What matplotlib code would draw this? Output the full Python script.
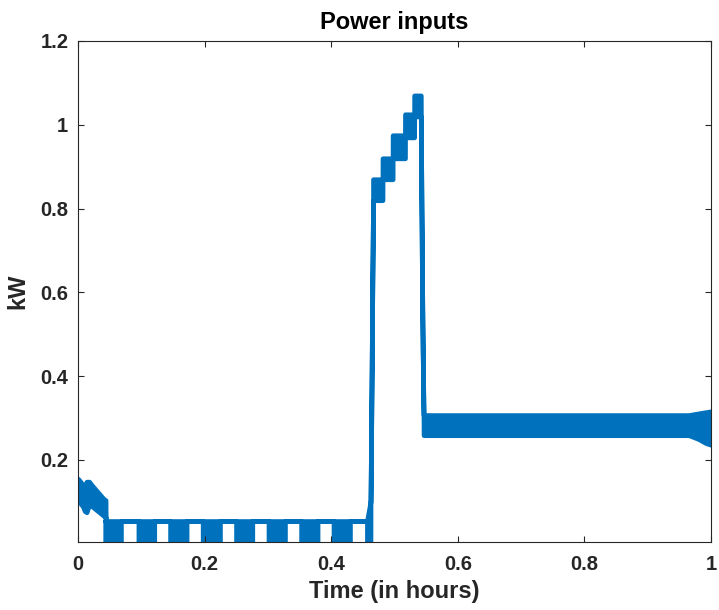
import numpy as np
import matplotlib
matplotlib.use("Agg")
import matplotlib.pyplot as plt
from matplotlib.ticker import FuncFormatter

# ---- data (time in hours, power in kW); each stretch is an envelope lo..hi ----
# start-up transient
init_t = [0.000, 0.008, 0.0105, 0.0135, 0.0175, 0.0215, 0.0410, 0.0435]
init_hi = [0.155, 0.140, 0.135, 0.148, 0.148, 0.140, 0.106, 0.104]
init_lo = [0.104, 0.088, 0.078, 0.075, 0.094, 0.090, 0.066, 0.064]

# cycling period: standby level with switching bursts down to zero
standby_kw = 0.054
burst_on = [0.0430, 0.0955, 0.1455, 0.1970, 0.2497, 0.3010, 0.3525, 0.4037, 0.4565]
burst_off = [0.0678, 0.1204, 0.1715, 0.2242, 0.2753, 0.3269, 0.3784, 0.4296, 0.4620]

# ramp up
rise_t = [0.4620, 0.4635, 0.4645, 0.4660]
rise_kw = [0.10, 0.36, 0.56, 0.82]

# stepped high-load period
step_edges = [0.4660, 0.4810, 0.4970, 0.5165, 0.5310, 0.5415]
step_lo = [0.82, 0.87, 0.92, 0.97, 1.02]
step_hi = [0.87, 0.92, 0.975, 1.025, 1.07]

# ramp down
drop_t = [0.5420, 0.5432, 0.5445, 0.5458]
drop_kw = [0.92, 0.67, 0.46, 0.31]

# steady operation
steady_t = [0.5460, 0.9650, 0.9800, 0.9920, 1.0000]
steady_lo = [0.259, 0.259, 0.250, 0.240, 0.236]
steady_hi = [0.307, 0.307, 0.311, 0.314, 0.316]

# ---- assemble the envelope ----
t, lo, hi = [], [], []


def add(tt, l, h):
    t.append(tt)
    lo.append(l)
    hi.append(h)


for tt, l, h in zip(init_t, init_lo, init_hi):
    add(tt, l, h)
add(init_t[-1] + 0.0002, standby_kw, standby_kw)
for i, (on, off) in enumerate(zip(burst_on, burst_off)):
    add(on, standby_kw, standby_kw)
    add(on, 0.0, standby_kw)
    if i == len(burst_on) - 1:
        add(off, 0.0, rise_kw[0])
    else:
        add(off, 0.0, standby_kw)
        add(off, standby_kw, standby_kw)
for tt, v in zip(rise_t, rise_kw):
    add(tt + 0.0001, v, v)
for k in range(len(step_lo)):
    add(step_edges[k] + 0.0001, step_lo[k], step_hi[k])
    add(step_edges[k + 1], step_lo[k], step_hi[k])
for tt, v in zip(drop_t, drop_kw):
    add(tt, v, v)
for tt, l, h in zip(steady_t, steady_lo, steady_hi):
    add(tt, l, h)

t = np.array(t)
lo = np.array(lo)
hi = np.array(hi)

# ---- figure ----
plt.rcParams["font.family"] = ["Liberation Sans", "DejaVu Sans"]
plt.rcParams["font.weight"] = "bold"

fig = plt.figure(figsize=(7.19, 6.10), dpi=100)
ax = fig.add_axes([78 / 719, 68 / 610, 633 / 719, 501 / 610])

blue = "#0072BD"
ax.fill_between(t, lo, hi, facecolor=blue, edgecolor=blue, linewidth=3.4,
                joinstyle="round", capstyle="round")

ax.set_xlim(0, 1)
ax.set_ylim(0.004, 1.2)
ax.set_xticks([0, 0.2, 0.4, 0.6, 0.8, 1.0])
ax.set_yticks([0.2, 0.4, 0.6, 0.8, 1.0, 1.2])
fmt = FuncFormatter(lambda v, p: "%g" % round(v, 3))
ax.xaxis.set_major_formatter(fmt)
ax.yaxis.set_major_formatter(fmt)

axis_col = "#262626"
for s in ax.spines.values():
    s.set_color(axis_col)
    s.set_linewidth(0.8)
ax.tick_params(direction="in", length=4.5, width=0.8, colors=axis_col,
               labelsize=14.5, top=True, right=True)
ax.tick_params(axis="x", pad=9)
ax.tick_params(axis="y", pad=7)
for lab in ax.get_xticklabels() + ax.get_yticklabels():
    lab.set_fontweight("bold")

ax.set_title("Power inputs", fontsize=17, fontweight="bold", color="black", pad=9)
ax.set_xlabel("Time (in hours)", fontsize=17, fontweight="bold", color=axis_col, labelpad=5)
ax.set_ylabel("kW", fontsize=17, fontweight="bold", color=axis_col, labelpad=8)

fig.savefig("out.png", dpi=100, facecolor="white")
